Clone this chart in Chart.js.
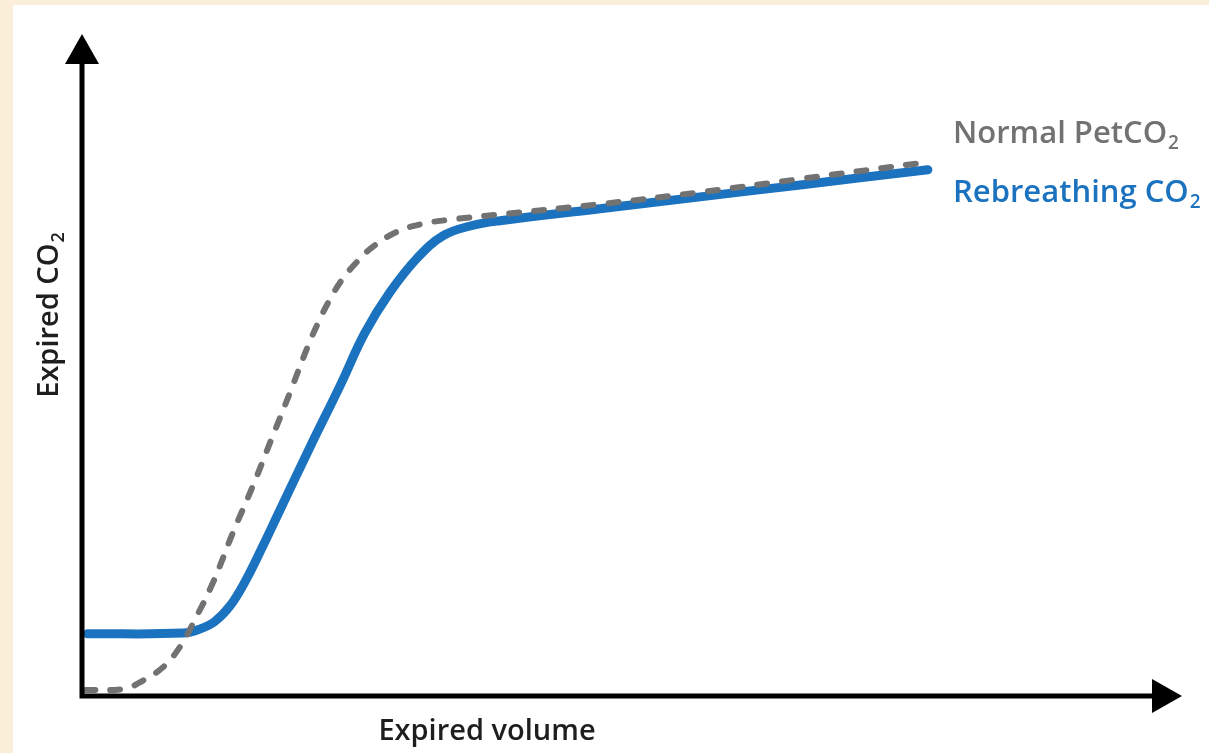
<!DOCTYPE html>
<html>
<head>
<meta charset="utf-8">
<script src="https://cdn.jsdelivr.net/npm/chart.js@4"></script>
<style>
  html, body { margin: 0; padding: 0; background: #fcefd9; }
  #wrap { position: absolute; left: 0; top: 0; width: 1209px; height: 753px; }
</style>
</head>
<body>
<div id="wrap"><canvas id="c" width="1209" height="753"></canvas></div>
<script>
// Expired volume (0–100, arbitrary units along the x axis)
const rebreathVolume = [0.5, 9.2, 10.7, 12.1, 13.5, 14.8, 16.4, 18.0, 20.7, 23.5, 25.7, 28.0, 30.5, 32.8, 35.3, 38.0, 47.1, 56.2, 65.3, 76.9];
// Expired CO2 for the rebreathing trace (0–100, arbitrary units)
const rebreathCO2 = [9.4, 9.5, 10.1, 11.3, 13.7, 17.2, 22.5, 28.1, 37.5, 47.0, 54.8, 61.0, 66.2, 69.5, 71.0, 71.8, 73.6, 75.4, 77.2, 79.5];

const normalVolume = [0.3, 3.9, 5.5, 7.4, 8.9, 10.1, 11.9, 13.7, 15.5, 17.2, 18.9, 20.5, 21.5, 22.5, 23.6, 24.9, 26.4, 28.6, 30.9, 33.2, 37.7, 47.1, 56.2, 65.3, 77.1];
const normalCO2 = [0.9, 1.1, 2.3, 4.4, 7.4, 11.0, 17.1, 24.6, 31.6, 38.7, 45.8, 52.7, 56.5, 59.8, 62.8, 65.4, 67.8, 70.1, 71.3, 71.9, 72.7, 74.3, 76.1, 78.1, 80.7];

const seriesNames = ['Normal PetCO', 'Rebreathing CO'];
const axisTitles = { x: 'Expired volume', y: 'Expired CO' };

const BLUE = '#1b72bf';
const GREY = '#727272';
const FONT = '"Open Sans", "Noto Sans", sans-serif';
const TITLE_SIZE = 29;
const LABEL_SIZE = 31;

const toPoints = (xs, ys) => xs.map((x, i) => ({ x, y: ys[i] }));

// Paper panel: beige margin with a white sheet
const panelPlugin = {
  id: 'panel',
  beforeDraw(chart) {
    const { ctx, width, height } = chart;
    ctx.save();
    ctx.fillStyle = '#fcefd9';
    ctx.fillRect(0, 0, width, height);
    ctx.fillStyle = '#ffffff';
    ctx.fillRect(13, 5, width - 13, height - 5);
    ctx.restore();
  }
};

// Text with a lowered "2" subscript
function drawSubText(ctx, text, x, y, size, color) {
  ctx.fillStyle = color;
  ctx.font = `600 ${size}px ${FONT}`;
  ctx.textBaseline = 'alphabetic';
  ctx.textAlign = 'left';
  ctx.fillText(text, x, y);
  const w = ctx.measureText(text).width;
  ctx.font = `600 ${Math.round(size * 0.62)}px ${FONT}`;
  ctx.fillText('2', x + w + 1, y + size * 0.2);
}

function subTextWidth(ctx, text, size) {
  ctx.font = `600 ${size}px ${FONT}`;
  const w = ctx.measureText(text).width;
  ctx.font = `600 ${Math.round(size * 0.62)}px ${FONT}`;
  return w + 1 + ctx.measureText('2').width;
}

// Arrowed axes, axis titles and series labels
const axesPlugin = {
  id: 'arrowAxes',
  afterDatasetsDraw(chart) {
    const { ctx } = chart;
    const xs = chart.scales.x, ys = chart.scales.y;
    const x0 = xs.getPixelForValue(0), y0 = ys.getPixelForValue(0);
    const xEnd = xs.getPixelForValue(100), yEnd = ys.getPixelForValue(100);
    const head = 30, half = 17;
    ctx.save();
    ctx.strokeStyle = '#000';
    ctx.fillStyle = '#000';
    ctx.lineWidth = 5;
    ctx.lineCap = 'butt';
    ctx.beginPath();
    ctx.moveTo(x0, y0 + 2.5);
    ctx.lineTo(x0, yEnd + head);
    ctx.moveTo(x0 - 2.5, y0);
    ctx.lineTo(xEnd - head, y0);
    ctx.stroke();
    ctx.beginPath();
    ctx.moveTo(x0, yEnd);
    ctx.lineTo(x0 - half, yEnd + head);
    ctx.lineTo(x0 + half, yEnd + head);
    ctx.closePath();
    ctx.fill();
    ctx.beginPath();
    ctx.moveTo(xEnd, y0);
    ctx.lineTo(xEnd - head, y0 - half);
    ctx.lineTo(xEnd - head, y0 + half);
    ctx.closePath();
    ctx.fill();

    // x title
    ctx.fillStyle = '#1e1e1e';
    ctx.font = `600 ${TITLE_SIZE}px ${FONT}`;
    ctx.textAlign = 'center';
    ctx.textBaseline = 'alphabetic';
    ctx.fillText(axisTitles.x, 487, 740);

    // y title, rotated
    ctx.save();
    ctx.translate(58, 315);
    ctx.rotate(-Math.PI / 2);
    const tw = subTextWidth(ctx, axisTitles.y, TITLE_SIZE);
    drawSubText(ctx, axisTitles.y, -tw / 2, 0, TITLE_SIZE, '#1e1e1e');
    ctx.restore();

    // series labels
    drawSubText(ctx, seriesNames[0], 953, 143, LABEL_SIZE, GREY);
    drawSubText(ctx, seriesNames[1], 953, 202, LABEL_SIZE, BLUE);
    ctx.restore();
  }
};

new Chart(document.getElementById('c'), {
  type: 'line',
  data: {
    datasets: [
      {
        label: seriesNames[0],
        data: toPoints(normalVolume, normalCO2),
        borderColor: GREY,
        borderWidth: 6,
        borderDash: [10, 15],
        borderCapStyle: 'round',
        pointRadius: 0,
        tension: 0.4,
        fill: false,
        order: 0
      },
      {
        label: seriesNames[1],
        data: toPoints(rebreathVolume, rebreathCO2),
        borderColor: BLUE,
        borderWidth: 9,
        borderCapStyle: 'round',
        pointRadius: 0,
        tension: 0.4,
        fill: false,
        order: 1
      }
    ]
  },
  options: {
    responsive: false,
    animation: false,
    events: [],
    layout: { padding: { left: 82, right: 27, top: 34, bottom: 57 } },
    plugins: { legend: { display: false }, tooltip: { enabled: false } },
    scales: {
      x: { type: 'linear', min: 0, max: 100, display: false },
      y: { type: 'linear', min: 0, max: 100, display: false }
    }
  },
  plugins: [panelPlugin, axesPlugin]
});
</script>
</body>
</html>
